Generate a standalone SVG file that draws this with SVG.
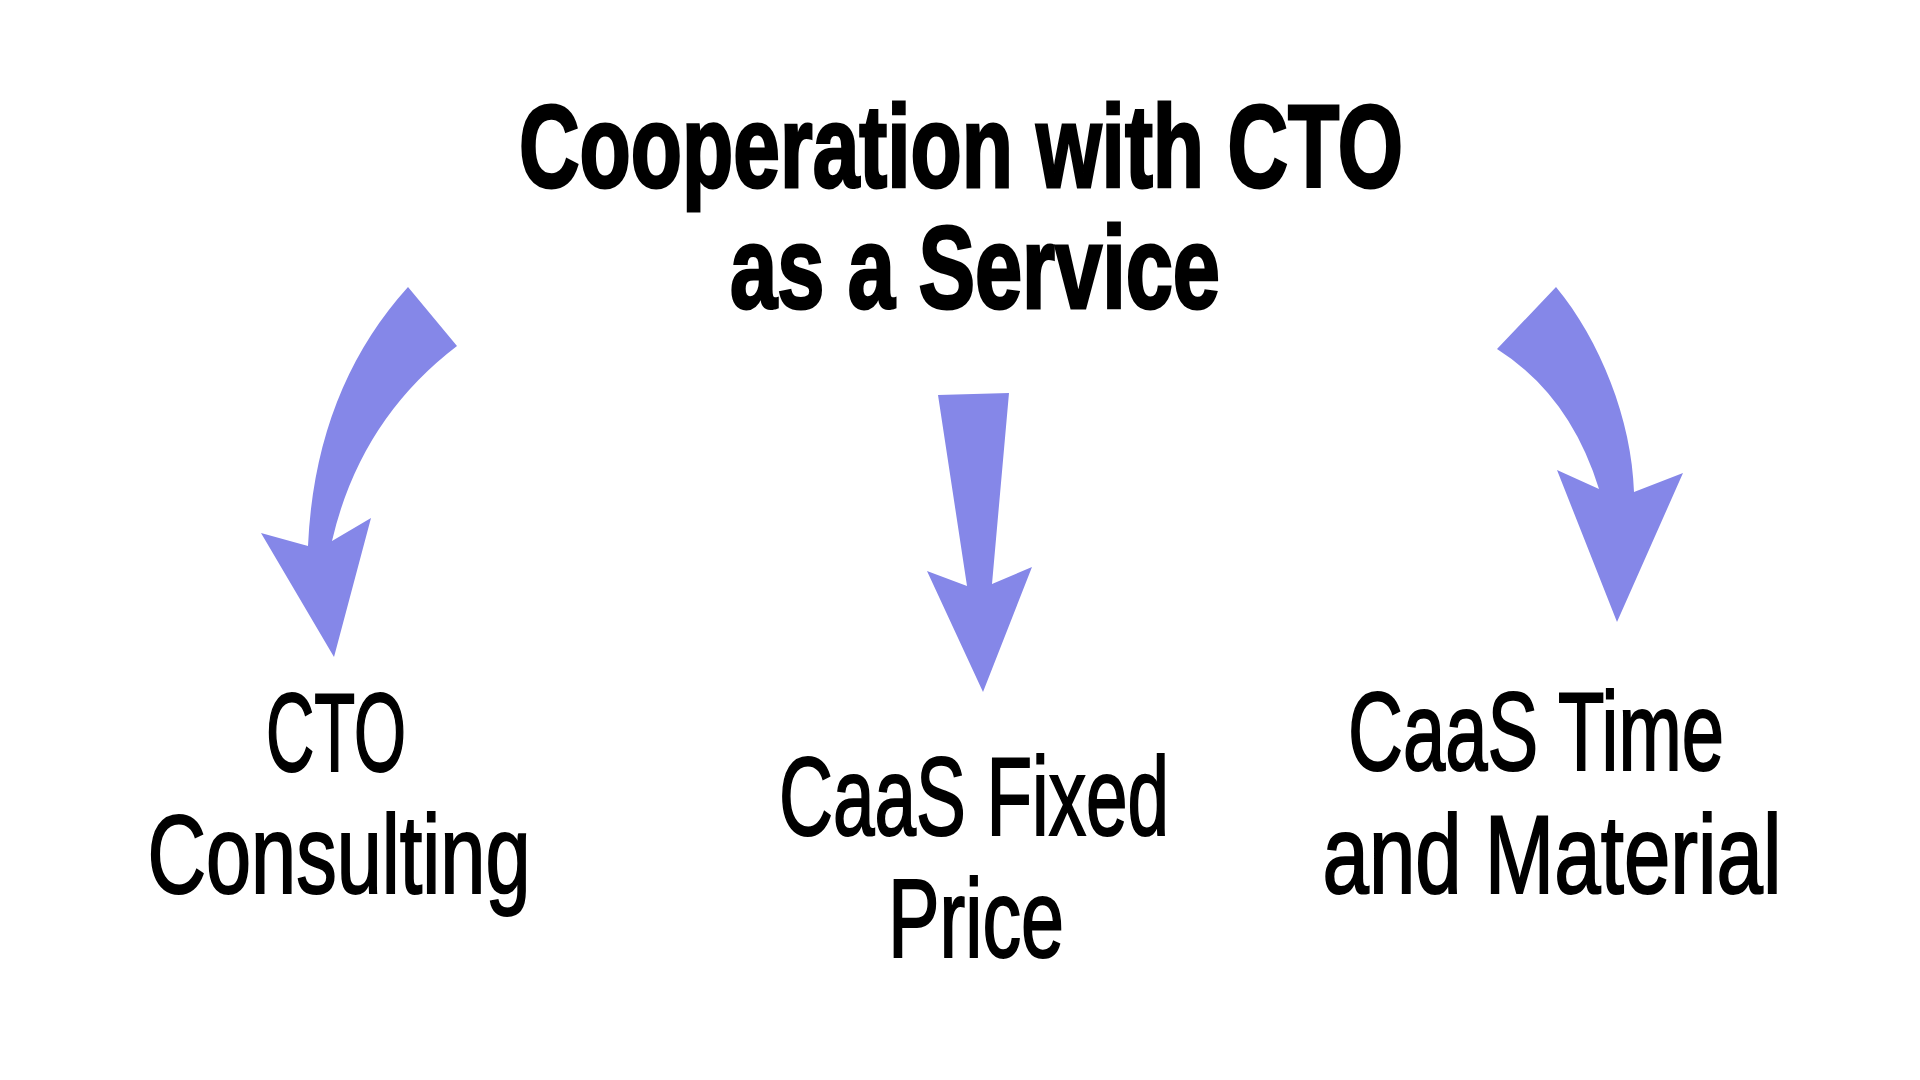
<svg xmlns="http://www.w3.org/2000/svg" width="1920" height="1080" viewBox="0 0 1920 1080">
<style>
.title{font-family:"Liberation Sans","Roboto",sans-serif;font-weight:bold;font-size:117px;fill:#000;stroke:#000;stroke-width:3px;text-anchor:middle}
.label{font-family:"Liberation Sans","Roboto",sans-serif;font-weight:normal;font-size:111px;fill:#000;stroke:#000;stroke-width:2px;text-anchor:middle}
.arrow{fill:#8587E8;stroke:none}
</style>
<rect width="1920" height="1080" fill="#ffffff"/>
<g id="title">
<text class="title" x="961" y="187" textLength="884" lengthAdjust="spacingAndGlyphs">Cooperation with CTO</text>
<text class="title" x="975" y="308" textLength="490" lengthAdjust="spacingAndGlyphs">as a Service</text>
</g>
<g id="connectors">
<path class="arrow" d="M 408 287 L 457 346 Q 360 420 332 541 L 371 518 L 334 657 L 261 533 L 308 546 Q 315 390 408 287 Z"/>
<path class="arrow" d="M 938 395 L 1009 393 L 992 584 L 1032 567 L 983 692 L 927 571 L 967 586 Z"/>
<path class="arrow" d="M 1556 287 C 1600 340 1632 420 1634 492 L 1683 473 L 1617 622 L 1557 470 L 1599 489 Q 1570 395 1497 349 Z"/>
</g>
<g id="cto-consulting">
<text class="label" x="336" y="771" textLength="140" lengthAdjust="spacingAndGlyphs">CTO</text>
<text class="label" x="339" y="893" textLength="383" lengthAdjust="spacingAndGlyphs">Consulting</text>
</g>
<g id="caas-fixed-price">
<text class="label" x="974" y="835" textLength="390" lengthAdjust="spacingAndGlyphs">CaaS Fixed</text>
<text class="label" x="976" y="957" textLength="176" lengthAdjust="spacingAndGlyphs">Price</text>
</g>
<g id="caas-time-material">
<text class="label" x="1536" y="770" textLength="376" lengthAdjust="spacingAndGlyphs">CaaS Time</text>
<text class="label" x="1552" y="893" textLength="459" lengthAdjust="spacingAndGlyphs">and Material</text>
</g>
</svg>
